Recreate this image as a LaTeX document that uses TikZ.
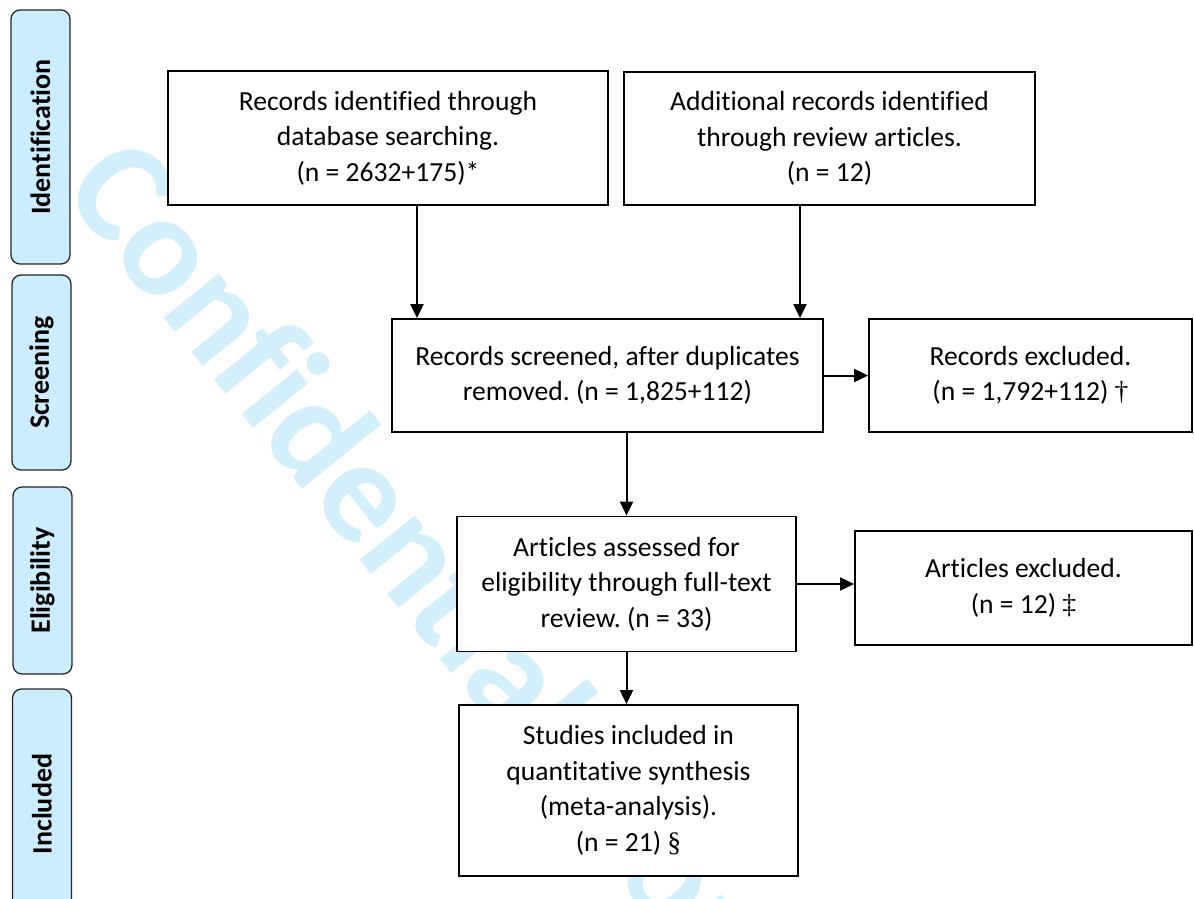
\documentclass[tikz,border=0pt]{standalone}
\usepackage{fontspec}
\setmainfont{Carlito}[Ligatures=NoCommon]
\newfontfamily\symfont{Liberation Serif}
\usepackage{xcolor}
\usetikzlibrary{arrows.meta}

\definecolor{stageblue}{RGB}{204,236,255}
\definecolor{markblue}{RGB}{212,239,252}

\begin{document}
\frenchspacing
\begin{tikzpicture}[
  x=1pt, y=-1pt,
  stage/.style={draw=black!85, line width=1.3pt, rounded corners=9pt,
                fill=stageblue, rotate=90, minimum height=59pt,
                font=\fontsize{28}{32}\selectfont\bfseries, inner sep=0pt},
  flowbox/.style={draw, line width=1.8pt, fill=white, align=center,
                  font=\fontsize{27.6}{35.5}\selectfont, inner sep=2pt},
  arr/.style={line width=2pt, -{Triangle[length=14pt,width=13pt]}},
  watermark/.style={text=markblue, font=\fontsize{146}{146}\selectfont\bfseries,
               rotate=-51, anchor=base west, inner sep=0pt},
]
  \clip (0,0) rectangle (1194,899);

  % Watermark behind everything
  \node[watermark] (wmark) at (60,190) {Confidential: For Review Only};

  % Stage labels on the left
  \node[stage, minimum width=254pt] (ident)  at (40.5,137)   {Identification};
  \node[stage, minimum width=195pt] (screen) at (41.5,372.5) {Screening};
  \node[stage, minimum width=187pt] (elig)   at (42.5,580.5) {Eligibility};
  \node[stage, minimum width=230pt] (incl)   at (42,804)     {Included};

  % Identification row
  \node[flowbox, minimum width=440pt, minimum height=134pt] (recdb) at (388,138)
    {Records identified through\\database searching.\\(n = 2632+175)*};
  \node[flowbox, minimum width=411pt, minimum height=133pt] (recadd) at (829.5,138.5)
    {Additional records identified\\through review articles.\\(n = 12)};

  % Screening row
  \node[flowbox, minimum width=431pt, minimum height=113pt] (screened) at (607.5,375.5)
    {Records screened, after duplicates\\removed. (n = 1,825+112)};
  \node[flowbox, minimum width=323pt, minimum height=113pt] (excl) at (1030.5,375.5)
    {Records excluded.\\(n = 1,792+112) {\symfont †}};

  % Eligibility row
  \node[flowbox, minimum width=339pt, minimum height=135pt] (fulltext) at (626.5,584)
    {Articles assessed for\\eligibility through full-text\\review. (n = 33)};
  \node[flowbox, minimum width=337pt, minimum height=114pt] (artexcl) at (1023.5,588)
    {Articles excluded.\\(n = 12) {\symfont ‡}};

  % Included row
  \node[flowbox, minimum width=339pt, minimum height=171pt] (included) at (628.5,790.5)
    {Studies included in\\quantitative synthesis\\(meta-analysis).\\(n = 21) {\symfont §}};

  % Connectors
  \draw[arr] ([xshift=29pt]recdb.south) -- ([xshift=29pt]recdb.south |- screened.north);
  \draw[arr] ([xshift=-29.5pt]recadd.south) -- ([xshift=-29.5pt]recadd.south |- screened.north);
  \draw[arr] (screened.east) -- (screened.east -| excl.west);
  \draw[arr] (screened.south -| fulltext.north) -- (fulltext.north);
  \draw[arr] (fulltext.east) -- (fulltext.east -| artexcl.west);
  \draw[arr] (fulltext.south) -- (fulltext.south |- included.north);
\end{tikzpicture}
\end{document}
